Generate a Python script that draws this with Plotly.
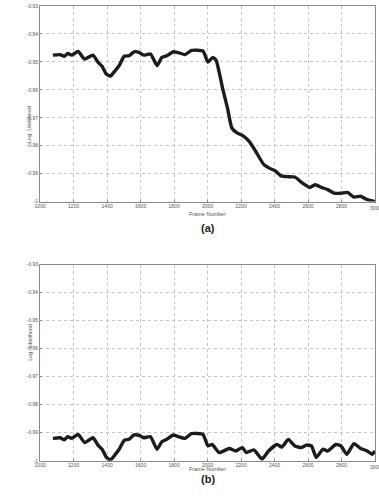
import plotly.graph_objects as go

# ---- data ----
frames_a = [1076, 1119, 1145, 1165, 1188, 1227, 1266, 1315, 1345, 1370, 1394, 1419, 1449, 1472,
            1502, 1531, 1561, 1590, 1619, 1659, 1698, 1727, 1757, 1796, 1825, 1865, 1904, 1972,
            2002, 2031, 2051, 2090, 2119, 2145, 2178, 2208, 2247, 2286, 2335, 2374, 2404, 2439,
            2482, 2521, 2561, 2610, 2643, 2678, 2717, 2757, 2796, 2835, 2874, 2914, 2953, 3000]
loglik_a = [-0.9476, -0.9474, -0.9480, -0.9470, -0.9476, -0.9463, -0.9490, -0.9476, -0.9501, -0.9516,
            -0.9543, -0.9551, -0.9531, -0.9513, -0.9480, -0.9478, -0.9464, -0.9466, -0.9476, -0.9472,
            -0.9513, -0.9484, -0.9478, -0.9464, -0.9467, -0.9474, -0.9459, -0.9461, -0.9501, -0.9484,
            -0.9495, -0.9596, -0.9666, -0.9737, -0.9755, -0.9763, -0.9784, -0.9819, -0.9867, -0.9882,
            -0.9890, -0.9908, -0.9911, -0.9912, -0.9931, -0.9949, -0.9940, -0.9949, -0.9957, -0.9970,
            -0.9970, -0.9967, -0.9984, -0.9981, -0.9993, -1.0000]

frames_b = [1076, 1119, 1145, 1165, 1188, 1227, 1266, 1315, 1345, 1370, 1394, 1419, 1449, 1472,
            1502, 1531, 1561, 1590, 1619, 1659, 1698, 1727, 1757, 1796, 1825, 1865, 1904, 1972,
            2002, 2027, 2070, 2129, 2168, 2208, 2231, 2276, 2325, 2364, 2414, 2443, 2482, 2521,
            2561, 2590, 2620, 2649, 2688, 2717, 2766, 2796, 2831, 2874, 2914, 2953, 2982, 3000]
loglik_b = [-0.9920, -0.9918, -0.9925, -0.9914, -0.9920, -0.9906, -0.9935, -0.9918, -0.9944, -0.9959,
            -0.9986, -0.9998, -0.9977, -0.9959, -0.9927, -0.9923, -0.9908, -0.9909, -0.9918, -0.9914,
            -0.9959, -0.9932, -0.9923, -0.9908, -0.9914, -0.9920, -0.9903, -0.9906, -0.9947, -0.9942,
            -0.9971, -0.9956, -0.9965, -0.9953, -0.9971, -0.9961, -0.9994, -0.9965, -0.9942, -0.9951,
            -0.9924, -0.9947, -0.9953, -0.9944, -0.9947, -0.9988, -0.9959, -0.9965, -0.9942, -0.9947,
            -0.9977, -0.9939, -0.9956, -0.9965, -0.9977, -0.9965]

x_ticks = [1000, 1200, 1400, 1600, 1800, 2000, 2200, 2400, 2600, 2800, 3000]
x_tick_text = ["1000", "1200", "1400", "1600", "1800", "2000", "2200", "2400", "2600", "2800", "3000"]
y_ticks = [-1.0, -0.99, -0.98, -0.97, -0.96, -0.95, -0.94, -0.93]
y_tick_text = ["-1", "-0.99", "-0.98", "-0.97", "-0.96", "-0.95", "-0.94", "-0.93"]
panel_labels = ["(a)", "(b)"]

W, H = 379, 502
FONT = "Arial, Liberation Sans, sans-serif"
LINE_COLOR = "#1c1c1c"
GRID = "#c4c4c4"
AX = "#8a8a8a"
TXT = "#555555"

fig = go.Figure()
fig.add_trace(go.Scatter(x=frames_a, y=loglik_a, mode="lines", xaxis="x", yaxis="y",
                         line=dict(color=LINE_COLOR, width=3.4, shape="spline", smoothing=0.5),
                         showlegend=False))
fig.add_trace(go.Scatter(x=frames_b, y=loglik_b, mode="lines", xaxis="x2", yaxis="y2",
                         line=dict(color=LINE_COLOR, width=3.4, shape="spline", smoothing=0.5),
                         showlegend=False))

x_dom = [34.7 / W, 375.0 / W]
ya_dom = [(H - 201.0) / H, (H - 3.0) / H]
yb_dom = [(H - 463.3) / H, (H - 264.7) / H]

def xaxis(anchor):
    return dict(domain=x_dom, anchor=anchor, range=[1000, 3000], tickmode="array",
                tickvals=x_ticks[:-1], ticktext=x_tick_text[:-1], showgrid=True, gridcolor=GRID,
                griddash="dot", gridwidth=0.8, showline=True, linecolor=AX, linewidth=1,
                mirror=True, ticks="inside", ticklen=2, tickcolor=AX, ticklabelstandoff=-1,
                tickfont=dict(size=5, color=TXT, family=FONT), zeroline=False)

def yaxis(anchor, dom):
    return dict(domain=dom, anchor=anchor, range=[-1.0, -0.93], tickmode="array",
                tickvals=y_ticks, ticktext=y_tick_text, showgrid=True, gridcolor=GRID,
                griddash="dot", gridwidth=0.8, showline=True, linecolor=AX, linewidth=1,
                mirror=True, ticks="inside", ticklen=2, tickcolor=AX,
                tickfont=dict(size=5, color=TXT, family=FONT), zeroline=False)

fig.update_layout(
    width=W, height=H, margin=dict(l=0, r=0, t=0, b=0),
    paper_bgcolor="white", plot_bgcolor="white",
    xaxis=xaxis("y"), yaxis=yaxis("x", ya_dom),
    xaxis2=xaxis("y2"), yaxis2=yaxis("x2", yb_dom),
    font=dict(family=FONT, color=TXT),
)

annotations = []
for xref, yref in [("x", "y"), ("x2", "y2")]:
    # last tick label (clipped at the right edge of the page, as in the reference)
    annotations.append(dict(text=x_tick_text[-1], x=x_ticks[-1], y=0, xref=xref,
                            yref=yref + " domain", yanchor="top", yshift=-1, showarrow=False,
                            font=dict(size=5, color=TXT, family=FONT)))
for (top, bot) in [(3.0, 201.0), (264.7, 463.3)]:
    annotations.append(dict(text="Frame Number", x=205 / W, y=(H - (bot + 13)) / H,
                            xref="paper", yref="paper", showarrow=False,
                            font=dict(size=5.5, color=TXT, family=FONT)))
    annotations.append(dict(text="Log. Likelihood", x=19 / W, y=(H - (top + bot) / 2) / H,
                            xref="paper", yref="paper", showarrow=False, textangle=-90,
                            font=dict(size=5.5, color=TXT, family=FONT)))
for lab, lab_y in zip(panel_labels, [228.0, 490.0]):
    annotations.append(dict(text="<b>%s</b>" % lab, x=205 / W, y=(H - lab_y) / H,
                            xref="paper", yref="paper", showarrow=False,
                            font=dict(size=11, color="#222222", family=FONT)))
fig.update_layout(annotations=annotations)

fig.write_html("out.html", config={"displayModeBar": False},
               post_script="document.body.style.margin='0';document.body.style.overflow='hidden';")
